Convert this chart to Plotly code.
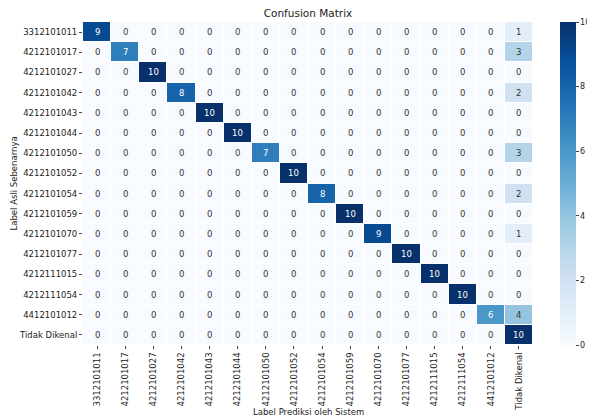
import plotly.graph_objects as go

labels = ["3312101011", "4212101017", "4212101027", "4212101042", "4212101043",
          "4212101044", "4212101050", "4212101052", "4212101054", "4212101059",
          "4212101070", "4212101077", "4212111015", "4212111054", "4412101012",
          "Tidak Dikenal"]
diagonal = [9, 7, 10, 8, 10, 10, 7, 10, 8, 10, 9, 10, 10, 10, 6, 10]
unknown_col = [1, 3, 0, 2, 0, 0, 3, 0, 2, 0, 1, 0, 0, 0, 4, 10]

n = len(labels)
z = [[0] * n for _ in range(n)]
for i in range(n):
    z[i][i] = diagonal[i]
    z[i][n - 1] = unknown_col[i]

blues = ["#f7fbff", "#deebf7", "#c6dbef", "#9ecae1", "#6baed6",
         "#4292c6", "#2171b5", "#08519c", "#08306b"]
cs = [[k / (len(blues) - 1), c] for k, c in enumerate(blues)]

OFF = 8  # page body margin
W, H = 595 - OFF, 419 - OFF
L, T = 83 - OFF, 22 - OFF
B = H - (345 - OFF)
R = 4
pw = W - L - R
ph = H - T - B


def px_x(x):
    return (x - OFF - L) / pw


def px_y(y):
    return (T + ph - (y - OFF)) / ph


fig = go.Figure(go.Heatmap(
    z=z, x=labels, y=labels, colorscale=cs, zmin=0, zmax=10,
    xgap=1, ygap=1,
    colorbar=dict(thickness=16, len=1, lenmode="fraction", x=px_x(560), xanchor="left",
                  xpad=0, ypad=0, y=0.5, outlinewidth=0, ticks="outside", ticklen=3,
                  tickvals=[0, 2, 4, 6, 8, 10],
                  tickfont=dict(size=8, color="#222")),
    hoverinfo="skip"))

annotations = []
for i in range(n):
    for j in range(n):
        v = z[i][j]
        annotations.append(dict(x=j, y=i, xref="x", yref="y", text=str(v), showarrow=False,
                                font=dict(size=8.5, color="white" if v >= 5 else "#333")))

annotations.append(dict(text="Label Prediksi oleh Sistem", xref="paper", yref="paper",
                        x=px_x(308), y=px_y(412), xanchor="center",
                        yanchor="middle", showarrow=False, font=dict(size=8.5, color="#222")))
annotations.append(dict(text="Label Asli Sebenarnya", xref="paper", yref="paper",
                        x=px_x(13), y=0.5, xanchor="center", yanchor="middle",
                        textangle=-90, showarrow=False, font=dict(size=8.5, color="#222")))

fig.update_layout(
    width=W, height=H,
    margin=dict(l=L, r=R, t=T, b=B, autoexpand=False),
    paper_bgcolor="white", plot_bgcolor="white",
    font=dict(family="DejaVu Sans", size=8.5, color="#222"),
    title=dict(text="Confusion Matrix", x=(308 - OFF) / W, xanchor="center",
               y=1 - (13 - OFF) / H, yanchor="middle", font=dict(size=10.5, color="#222")),
    annotations=annotations,
    xaxis=dict(type="category", domain=[0, 450 / pw], tickangle=-90, ticks="outside",
               ticklen=3, showgrid=False, automargin=False),
    yaxis=dict(type="category", autorange="reversed", ticks="outside", ticklen=3,
               showgrid=False, automargin=False),
)

fig.write_html("out.html")
